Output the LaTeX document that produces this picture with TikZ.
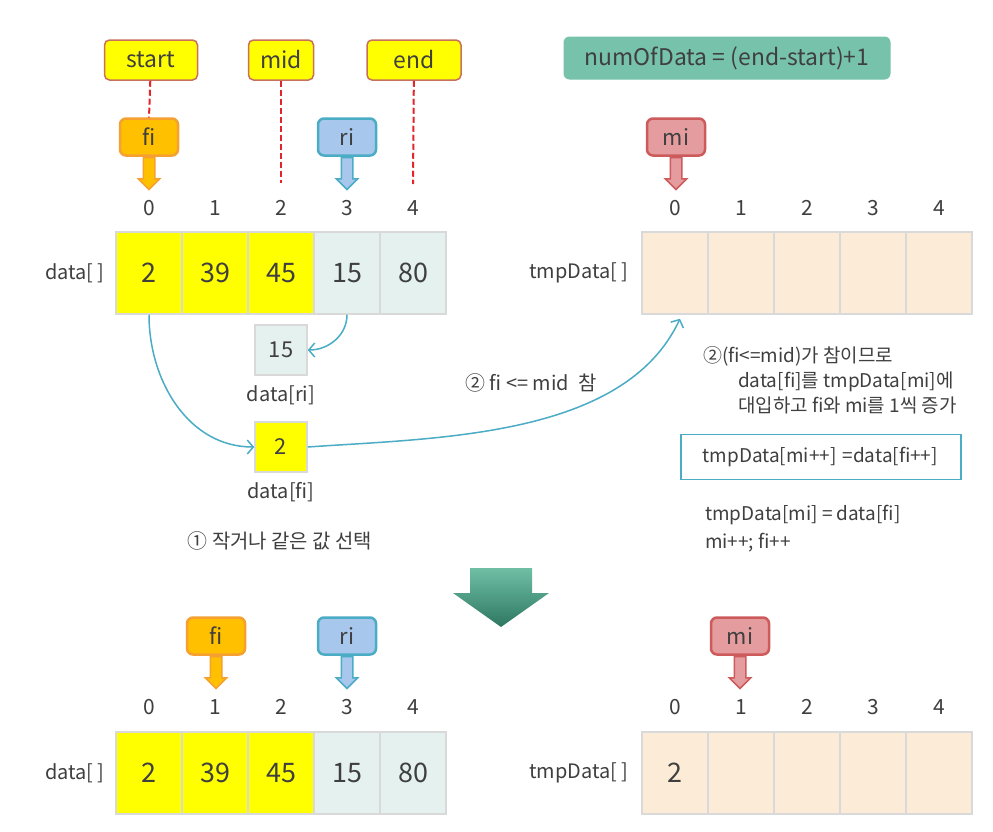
\documentclass[tikz,border=0pt]{standalone}
\usepackage{fontspec}
\setmainfont{Noto Sans CJK KR}
\usepackage{tikz}
\usetikzlibrary{positioning, shapes.arrows, arrows.meta}
\definecolor{txtgray}{HTML}{3F3F3F}
\definecolor{celly}{HTML}{FFFF00}
\definecolor{cellg}{HTML}{E4F1EF}
\definecolor{cellt}{HTML}{FCEBD6}
\definecolor{cellline}{HTML}{D9D9D9}
\definecolor{tagline}{HTML}{C9705A}
\definecolor{guidered}{HTML}{E3242B}
\definecolor{fifill}{HTML}{FFC000}
\definecolor{filine}{HTML}{F5A031}
\definecolor{rifill}{HTML}{A7C7EC}
\definecolor{riline}{HTML}{4BACC6}
\definecolor{mifill}{HTML}{E59C9F}
\definecolor{miline}{HTML}{CD5B5C}
\definecolor{flowline}{HTML}{4BACC6}
\definecolor{notefill}{HTML}{76C2AB}
\definecolor{steptop}{HTML}{6FBFA5}
\definecolor{stepbot}{HTML}{2E7762}
\tikzstyle{cell} = [rectangle, draw=cellline, line width=1.5bp, minimum width=66bp, minimum height=82bp, inner sep=0pt, text=txtgray, font=\fontsize{27}{27}\selectfont]
\tikzstyle{small} = [rectangle, draw=cellline, line width=1.5bp, minimum width=52bp, minimum height=50bp, inner sep=0pt, text=txtgray, font=\fontsize{22}{22}\selectfont]
\tikzstyle{idx} = [text=txtgray, font=\fontsize{21}{21}\selectfont]
\tikzstyle{lbl} = [text=txtgray, inner sep=0pt, font=\fontsize{20}{20}\selectfont]
\tikzstyle{tag} = [rectangle, rounded corners=5bp, fill=celly, draw=tagline, line width=1.5bp, minimum height=40bp, inner xsep=8bp, text=txtgray, font=\fontsize{23}{23}\selectfont]
\tikzstyle{note} = [rectangle, rounded corners=6bp, fill=notefill, minimum width=327bp, minimum height=43bp, text=txtgray, font=\fontsize{23}{23}\selectfont]
\tikzstyle{ptrbox} = [rectangle, rounded corners=6bp, line width=2.5bp, minimum width=58bp, minimum height=37bp, text=txtgray, font=\fontsize{22}{22}\selectfont]
\tikzstyle{ptr} = [single arrow, shape border rotate=270, line width=1.5bp, minimum height=32bp, single arrow head extend=5bp, inner sep=5bp, anchor=tail]
\tikzstyle{guide} = [draw=guidered, line width=2bp, dash pattern=on 6bp off 3bp]
\tikzstyle{flow} = [draw=flowline, line width=1.5bp, -{Straight Barb[length=6bp,width=14bp,line width=1.5bp]}]
\tikzstyle{code} = [rectangle, draw=flowline, line width=1.5bp, fill=white, minimum height=45bp, text width=236bp, inner xsep=22bp, align=left, text=txtgray, font=\fontsize{19}{19}\selectfont]

\begin{document}
\begin{tikzpicture}[x=1bp, y=-1bp, node distance=66bp]

        \fill [white] (0,0) rectangle (993,832);
        \useasboundingbox (0,0) rectangle (993,832);

        % range tags
        \node (startv) [tag, minimum width=93bp] at (151,60) {start};
        \node (midv) [tag, minimum width=65bp] at (281,60) {mid};
        \node (endv) [tag, minimum width=94bp] at (414,60) {end};
        \node (numofdata) [note] at (727,58) {numOfData = (end-start)+1};

        \coordinate (midstop) at (281,183);
        \coordinate (endstop) at (413,184);

        \draw [guide] (startv) -- (149,118);
        \draw [guide] (midv) -- (midstop);
        \draw [guide] (endv) -- (endstop);

        % pointers (before)
        \node (fi) [ptrbox, fill=fifill, draw=filine] at (149,137) {fi};
        \node (fiptr) [ptr, fill=fifill, draw=filine] at (fi.south) {};
        \node (ri) [ptrbox, fill=rifill, draw=riline] at (347,137) {ri};
        \node (riptr) [ptr, fill=rifill, draw=riline] at (ri.south) {};
        \node (mi) [ptrbox, fill=mifill, draw=miline] at (676,137) {mi};
        \node (miptr) [ptr, fill=mifill, draw=miline] at (mi.south) {};

        % data[] before
        \node (d0) [cell, fill=celly] at (149,273) {2};
        \node (d1) [cell, fill=celly, right of=d0] {39};
        \node (d2) [cell, fill=celly, right of=d1] {45};
        \node (d3) [cell, fill=cellg, right of=d2] {15};
        \node (d4) [cell, fill=cellg, right of=d3] {80};
        \node (dlabel) [lbl, left of=d0, node distance=74bp] {data[ ]};

        \node (di0) [idx, above of=d0, node distance=65bp] {0};
        \node (di1) [idx, above of=d1, node distance=65bp] {1};
        \node (di2) [idx, above of=d2, node distance=65bp] {2};
        \node (di3) [idx, above of=d3, node distance=65bp] {3};
        \node (di4) [idx, above of=d4, node distance=65bp] {4};

        % tmpData[] before
        \node (t0) [cell, fill=cellt] at (675,273) {};
        \node (t1) [cell, fill=cellt, right of=t0] {};
        \node (t2) [cell, fill=cellt, right of=t1] {};
        \node (t3) [cell, fill=cellt, right of=t2] {};
        \node (t4) [cell, fill=cellt, right of=t3] {};
        \node (tlabel) [lbl, left of=t0, node distance=96bp] {tmpData[ ]};

        \node (ti0) [idx, above of=t0, node distance=65bp] {0};
        \node (ti1) [idx, above of=t1, node distance=65bp] {1};
        \node (ti2) [idx, above of=t2, node distance=65bp] {2};
        \node (ti3) [idx, above of=t3, node distance=65bp] {3};
        \node (ti4) [idx, above of=t4, node distance=65bp] {4};

        % compared values
        \node (rval) [small, fill=cellg] at (281,350) {15};
        \node (rlabel) [lbl, below of=rval, node distance=45bp] {data[ri]};
        \node (fval) [small, fill=celly] at (281,447) {2};
        \node (flabel) [lbl, below of=fval, node distance=45bp] {data[fi]};

        \draw [flow] (d3.south) to [out=-90, in=0] (rval.east);
        \draw [flow] (d0.south) to [out=-90, in=180] (fval.west);
        \draw [flow] (fval.east) to [out=4, in=-115, looseness=0.85]
            ([xshift=5bp, yshift=-4bp]t0.south);

        \node (cmp) [lbl] at (531,383) {② fi <= mid\ \ 참};
        \node (pick) [lbl] at (280,541) {① 작거나 같은 값 선택};

        % explanation
        \node (explain) [lbl, anchor=west, align=left,
            font=\fontsize{19}{25}\selectfont] at (703,380)
            {②(fi<=mid)가 참이므로\\
             \hspace*{35bp}data[fi]를 tmpData[mi]에\\
             \hspace*{35bp}대입하고 fi와 mi를 1씩 증가};
        \node (rule) [code, anchor=west] at (680,457) {tmpData[mi++] =data[fi++]};
        \node (steps) [lbl, anchor=west, align=left,
            font=\fontsize{19}{28}\selectfont] at (705,529)
            {tmpData[mi] = data[fi]\\mi++; fi++};

        % next step
        \shade [top color=steptop, bottom color=stepbot]
            (470,568) -- (532,568) -- (532,593) -- (549,593) -- (501,627)
            -- (453,593) -- (470,593) -- cycle;

        % pointers (after)
        \node (fib) [ptrbox, fill=fifill, draw=filine] at (216,636) {fi};
        \node (fibptr) [ptr, fill=fifill, draw=filine] at (fib.south) {};
        \node (rib) [ptrbox, fill=rifill, draw=riline] at (347,636) {ri};
        \node (ribptr) [ptr, fill=rifill, draw=riline] at (rib.south) {};
        \node (mib) [ptrbox, fill=mifill, draw=miline] at (740,636) {mi};
        \node (mibptr) [ptr, fill=mifill, draw=miline] at (mib.south) {};

        % data[] after
        \node (b0) [cell, fill=celly] at (149,773) {2};
        \node (b1) [cell, fill=celly, right of=b0] {39};
        \node (b2) [cell, fill=celly, right of=b1] {45};
        \node (b3) [cell, fill=cellg, right of=b2] {15};
        \node (b4) [cell, fill=cellg, right of=b3] {80};
        \node (blabel) [lbl, left of=b0, node distance=74bp] {data[ ]};

        \node (bi0) [idx, above of=b0, node distance=66bp] {0};
        \node (bi1) [idx, above of=b1, node distance=66bp] {1};
        \node (bi2) [idx, above of=b2, node distance=66bp] {2};
        \node (bi3) [idx, above of=b3, node distance=66bp] {3};
        \node (bi4) [idx, above of=b4, node distance=66bp] {4};

        % tmpData[] after
        \node (u0) [cell, fill=cellt] at (675,773) {2};
        \node (u1) [cell, fill=cellt, right of=u0] {};
        \node (u2) [cell, fill=cellt, right of=u1] {};
        \node (u3) [cell, fill=cellt, right of=u2] {};
        \node (u4) [cell, fill=cellt, right of=u3] {};
        \node (ulabel) [lbl, left of=u0, node distance=96bp] {tmpData[ ]};

        \node (ui0) [idx, above of=u0, node distance=66bp] {0};
        \node (ui1) [idx, above of=u1, node distance=66bp] {1};
        \node (ui2) [idx, above of=u2, node distance=66bp] {2};
        \node (ui3) [idx, above of=u3, node distance=66bp] {3};
        \node (ui4) [idx, above of=u4, node distance=66bp] {4};

    \end{tikzpicture}
\end{document}
